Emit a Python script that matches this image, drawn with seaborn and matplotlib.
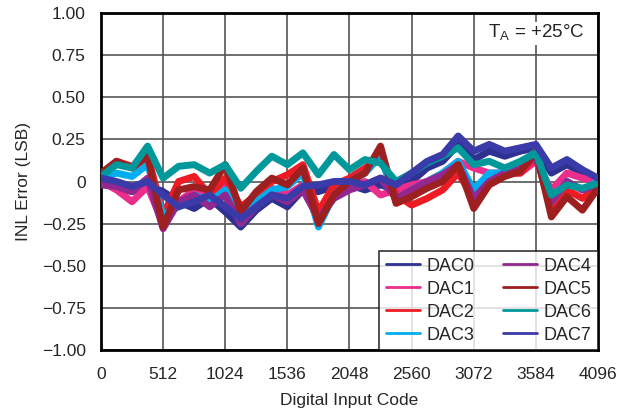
import numpy as np
import pandas as pd
import matplotlib
matplotlib.use("Agg")
import matplotlib.pyplot as plt
import seaborn as sns

# codes sampled every 128 LSB
CODES = list(range(0, 4097, 128))

DAC0 = [0.00, -0.04, -0.06, -0.02, -0.06, -0.12, -0.16, -0.10, -0.18, -0.27, -0.17,
        -0.10, -0.15, -0.05, -0.06, -0.03, -0.02, -0.05, -0.02, -0.05, 0.00, 0.08,
        0.12, 0.22, 0.13, 0.18, 0.15, 0.18, 0.20, 0.05, 0.10, 0.05, 0.00]
DAC1 = [0.00, -0.05, -0.12, -0.03, -0.25, -0.12, -0.05, -0.12, -0.02, -0.22, -0.10,
        -0.04, -0.08, -0.02, -0.20, -0.06, -0.03, 0.00, -0.08, -0.05, -0.02, 0.00,
        0.05, 0.12, 0.08, 0.05, 0.05, 0.05, 0.12, -0.05, 0.05, 0.02, 0.00]
DAC2 = [0.04, 0.12, 0.09, 0.16, -0.20, 0.00, 0.03, -0.08, 0.02, -0.15, -0.08,
        0.00, 0.04, 0.10, -0.18, -0.02, 0.02, 0.08, 0.14, -0.08, -0.14, -0.10,
        -0.05, 0.05, -0.10, 0.00, 0.05, 0.05, 0.15, -0.15, -0.05, -0.10, -0.03]
DAC3 = [0.02, 0.05, 0.03, 0.10, -0.20, -0.15, -0.08, -0.12, -0.05, -0.25, -0.12,
        -0.05, -0.03, 0.05, -0.27, -0.08, 0.00, 0.05, 0.15, -0.12, -0.05, 0.00,
        0.05, 0.12, -0.05, 0.05, 0.05, 0.10, 0.18, -0.12, 0.00, -0.05, 0.00]
DAC4 = [-0.02, -0.03, -0.06, 0.02, -0.28, -0.12, -0.08, -0.15, -0.08, -0.25, -0.15,
        -0.08, -0.12, -0.05, -0.22, -0.10, -0.05, -0.02, 0.02, -0.10, -0.05, 0.00,
        0.04, 0.10, -0.10, 0.00, 0.05, 0.08, 0.15, -0.12, 0.00, -0.05, -0.02]
DAC5 = [0.05, 0.12, 0.08, 0.15, -0.27, -0.05, -0.03, -0.05, 0.10, -0.18, -0.06,
        0.02, -0.02, 0.08, -0.25, -0.08, 0.00, 0.05, 0.21, -0.13, -0.09, -0.04,
        0.00, 0.10, -0.16, -0.02, 0.03, 0.06, 0.18, -0.21, -0.09, -0.17, -0.04]
DAC6 = [0.03, 0.10, 0.08, 0.21, 0.02, 0.09, 0.10, 0.05, 0.10, -0.04, 0.06,
        0.15, 0.10, 0.17, 0.04, 0.16, 0.07, 0.13, 0.11, 0.00, 0.05, 0.11,
        0.15, 0.20, 0.10, 0.12, 0.08, 0.12, 0.17, -0.08, -0.02, -0.04, -0.01]
DAC7 = [0.02, 0.00, -0.03, 0.00, -0.08, -0.15, -0.12, -0.08, -0.15, -0.22, -0.15,
        -0.08, -0.10, -0.03, -0.02, 0.00, 0.00, -0.02, 0.02, -0.02, 0.05, 0.12,
        0.16, 0.27, 0.18, 0.22, 0.18, 0.20, 0.22, 0.08, 0.13, 0.07, 0.02]

NAMES = ["DAC0", "DAC1", "DAC2", "DAC3", "DAC4", "DAC5", "DAC6", "DAC7"]
SERIES = [DAC0, DAC1, DAC2, DAC3, DAC4, DAC5, DAC6, DAC7]
COLORS = ["#2e3192", "#ec2d8c", "#ed1c24", "#00aeef",
          "#92278f", "#9e1f1f", "#00989a", "#3a3aa8"]

XTICKS = [0, 512, 1024, 1536, 2048, 2560, 3072, 3584, 4096]
YTICKS = [1.0, 0.75, 0.5, 0.25, 0.0, -0.25, -0.5, -0.75, -1.0]
YLABELS = ["1.00", "0.75", "0.50", "0.25", "0", "\u22120.25", "\u22120.50", "\u22120.75", "\u22121.00"]

rows = []
for name, vals in zip(NAMES, SERIES):
    for c, v in zip(CODES, vals):
        rows.append({"code": c, "inl": v, "dac": name})
df = pd.DataFrame(rows)

sns.set_style("white")
plt.rcParams["font.family"] = ["Liberation Sans", "DejaVu Sans"]
plt.rcParams["mathtext.fontset"] = "custom"
plt.rcParams["mathtext.rm"] = "Liberation Sans"

fig = plt.figure(figsize=(6.18, 4.15), dpi=100)
ax = fig.add_axes([0.1634, 0.1566, 0.8042, 0.8121])

sns.lineplot(data=df, x="code", y="inl", hue="dac", hue_order=NAMES,
             palette=COLORS, linewidth=5, ax=ax, legend=False, zorder=3)

ax.set_xlim(0, 4096)
ax.set_ylim(-1.0, 1.0)
ax.set_xticks(XTICKS)
ax.set_xticklabels([str(t) for t in XTICKS], fontsize=12.5)
ax.set_yticks(YTICKS)
ax.set_yticklabels(YLABELS, fontsize=12.5)
ax.tick_params(axis="x", length=0, pad=12.5)
ax.tick_params(axis="y", length=0, pad=11)
ax.grid(True, color="#555555", linewidth=1.2, zorder=0)
ax.set_axisbelow(True)
for s in ax.spines.values():
    s.set_color("black")
    s.set_linewidth(2)

ax.set_xlabel("Digital Input Code", fontsize=12.5, labelpad=8)
ax.set_ylabel("INL Error (LSB)", fontsize=12.5, labelpad=8)

# legend with plain line handles
handles = [plt.Line2D([], [], color=c, linewidth=2) for c in COLORS]
leg = ax.legend(handles, NAMES, ncol=2, loc="lower right", fontsize=13,
                frameon=True, fancybox=False, edgecolor="black",
                borderaxespad=0, handlelength=1.9, handletextpad=0.35,
                columnspacing=1.6, labelspacing=0.33, borderpad=0.35)
leg.get_frame().set_linewidth(1.2)
leg.set_zorder(5)

ax.text(3584, 0.88, r"T$_{\mathrm{A}}$ = +25°C", ha="center", va="center",
        fontsize=13.5, zorder=5,
        bbox=dict(facecolor="white", edgecolor="none", pad=1))

fig.savefig("out.png", dpi=100)
